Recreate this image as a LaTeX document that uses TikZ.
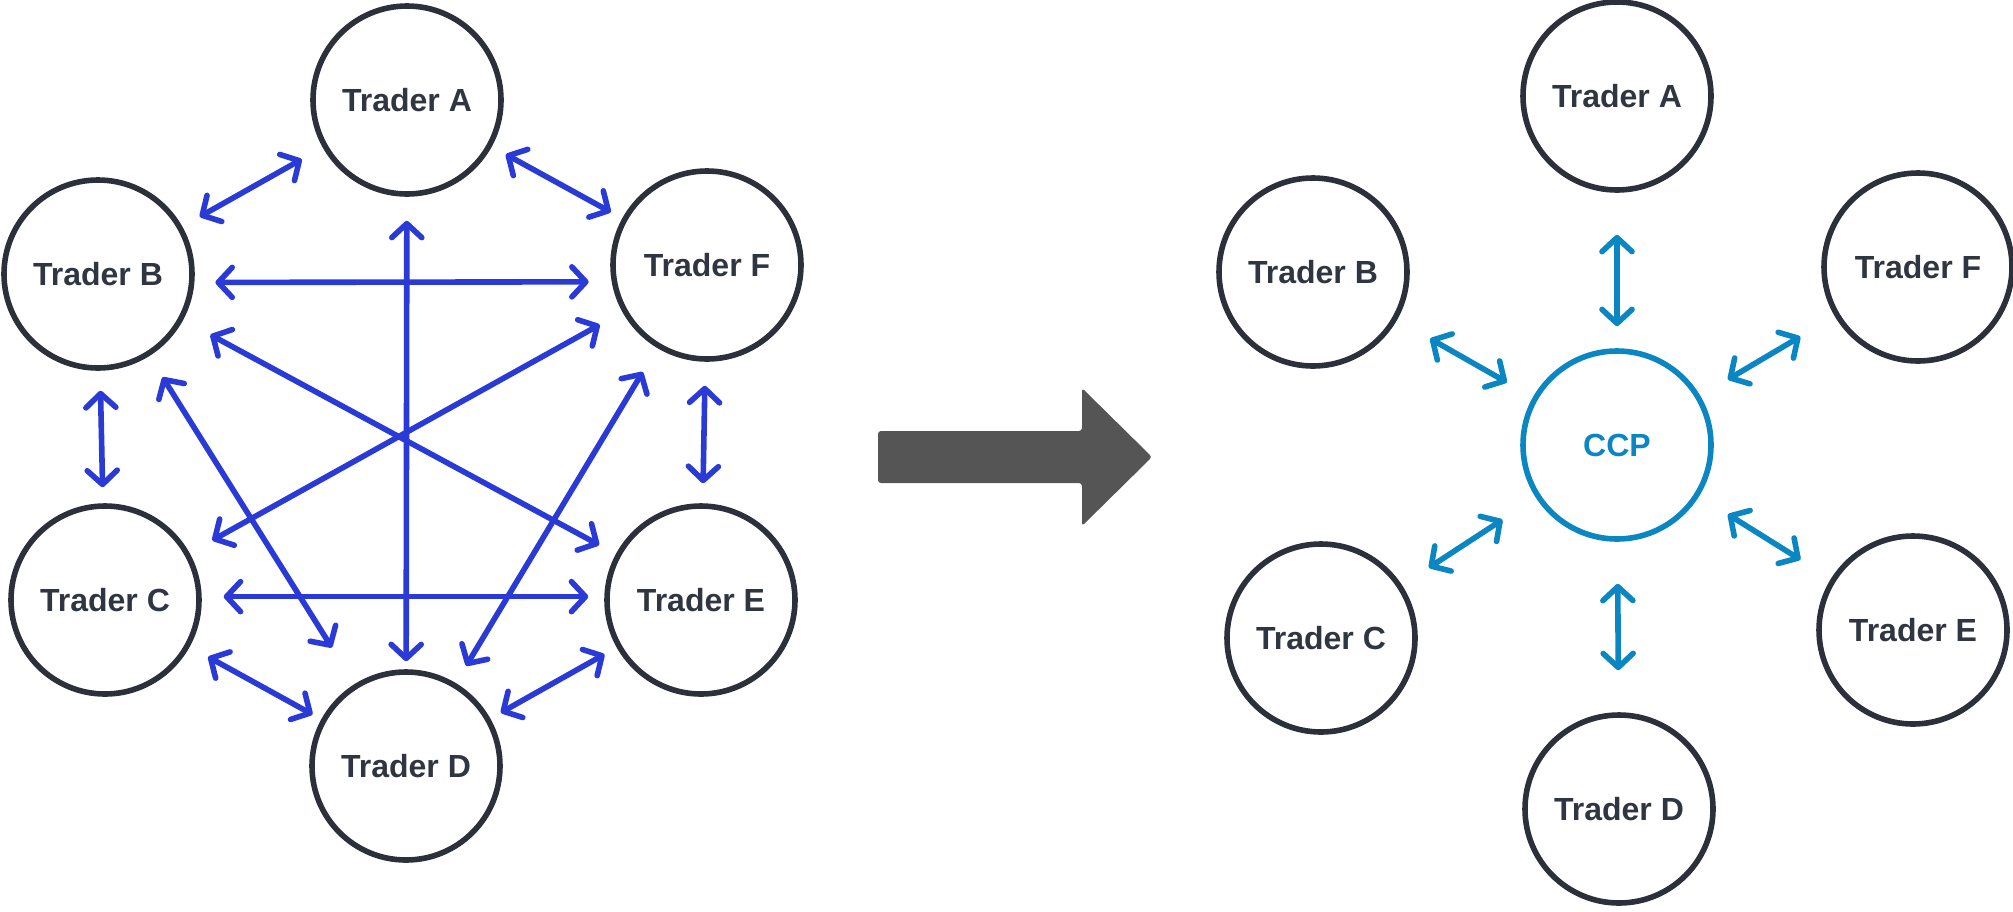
\documentclass[tikz,border=0pt]{standalone}
\usepackage{fontspec}
\setmainfont{Liberation Sans}
\usetikzlibrary{arrows.meta}
\definecolor{ringcolor}{HTML}{2B303B}
\definecolor{labelcolor}{HTML}{2F3541}
\definecolor{meshblue}{HTML}{2A3AD6}
\definecolor{ccpblue}{HTML}{0A86C2}
\definecolor{bigarrowgray}{HTML}{555555}
\newcommand{\rimwidth}{2.8pt}
\newcommand{\meshgap}{10pt}
\newcommand{\hubgap}{18pt}

\begin{document}
\begin{tikzpicture}[x=0.5pt,y=-0.5pt,
  >={Straight Barb[length=7pt,width=15pt,round]},
  trader/.style={circle,draw=ringcolor,line width=\rimwidth,minimum size=94pt,inner sep=0pt,
    text=labelcolor,font=\fontsize{16}{19}\selectfont\bfseries},
  ccpnode/.style={trader,draw=ccpblue,text=ccpblue},
  mesh/.style={<->,draw=meshblue,line width=\rimwidth,shorten <=\meshgap,shorten >=\meshgap},
  hub/.style={<->,draw=ccpblue,line width=\rimwidth,shorten <=\hubgap,shorten >=\hubgap}]
\useasboundingbox (0,0) rectangle (2013,911);
%bilateral
\node[trader] (A1) at (407,100) {Trader A};
\node[trader] (B1) at (98,274) {Trader B};
\node[trader] (F1) at (707,265) {Trader F};
\node[trader] (C1) at (105,600) {Trader C};
\node[trader] (E1) at (701,600) {Trader E};
\node[trader] (D1) at (406,766) {Trader D};
\draw[mesh, shorten >=12pt] (B1) -- (A1);
\draw[mesh, shorten <=8pt, shorten >=6.5pt] (A1) -- (F1);
\draw[mesh, shorten <=10.5pt, shorten >=11.5pt] (B1.-5) -- (F1.190);
\draw[mesh, shorten <=12pt, shorten >=4pt] (A1) -- (D1);
\draw[mesh, shorten <=15.5pt, shorten >=9.5pt] (B1) -- (E1);
\draw[mesh, shorten <=13pt, shorten >=13pt] (F1) -- (C1);
\draw[mesh, shorten <=12.5pt, shorten >=21.5pt] (B1) -- (D1);
\draw[mesh, shorten <=14pt, shorten >=10pt] (F1) -- (D1);
\draw[mesh, shorten >=8pt] (B1) -- (C1);
\draw[mesh, shorten <=12pt] (F1) -- (E1);
\draw[mesh, shorten <=11pt, shorten >=8pt] (C1.2) -- (E1.178);
\draw[mesh, shorten <=10.5pt, shorten >=5pt] (C1) -- (D1);
\draw[mesh, shorten <=7pt, shorten >=6pt] (E1) -- (D1);
%arrow
\fill[bigarrowgray, rounded corners=1.5pt] (878,431) -- (1082,431) -- (1082,388) -- (1152,457)
  -- (1082,526) -- (1082,483) -- (878,483) -- cycle;
%central
\node[ccpnode] (ccp) at (1617,445) {CCP};
\node[trader] (A2) at (1617,96) {Trader A};
\node[trader] (B2) at (1313,272) {Trader B};
\node[trader] (F2) at (1918,267) {Trader F};
\node[trader] (C2) at (1321,638) {Trader C};
\node[trader] (E2) at (1913,630) {Trader E};
\node[trader] (D2) at (1619,809) {Trader D};
\draw[hub, shorten <=11pt, shorten >=21pt] (ccp) -- (A2);
\draw[hub, shorten <=15pt, shorten >=19pt] (ccp) -- (B2);
\draw[hub, shorten <=16pt, shorten >=20pt] (ccp) -- (F2);
\draw[hub, shorten <=20pt, shorten >=16pt] (ccp) -- (C2);
\draw[hub, shorten <=17pt, shorten >=18pt] (ccp) -- (E2);
\draw[hub, shorten <=21pt, shorten >=21pt] (ccp) -- (D2);
\end{tikzpicture}
\end{document}
